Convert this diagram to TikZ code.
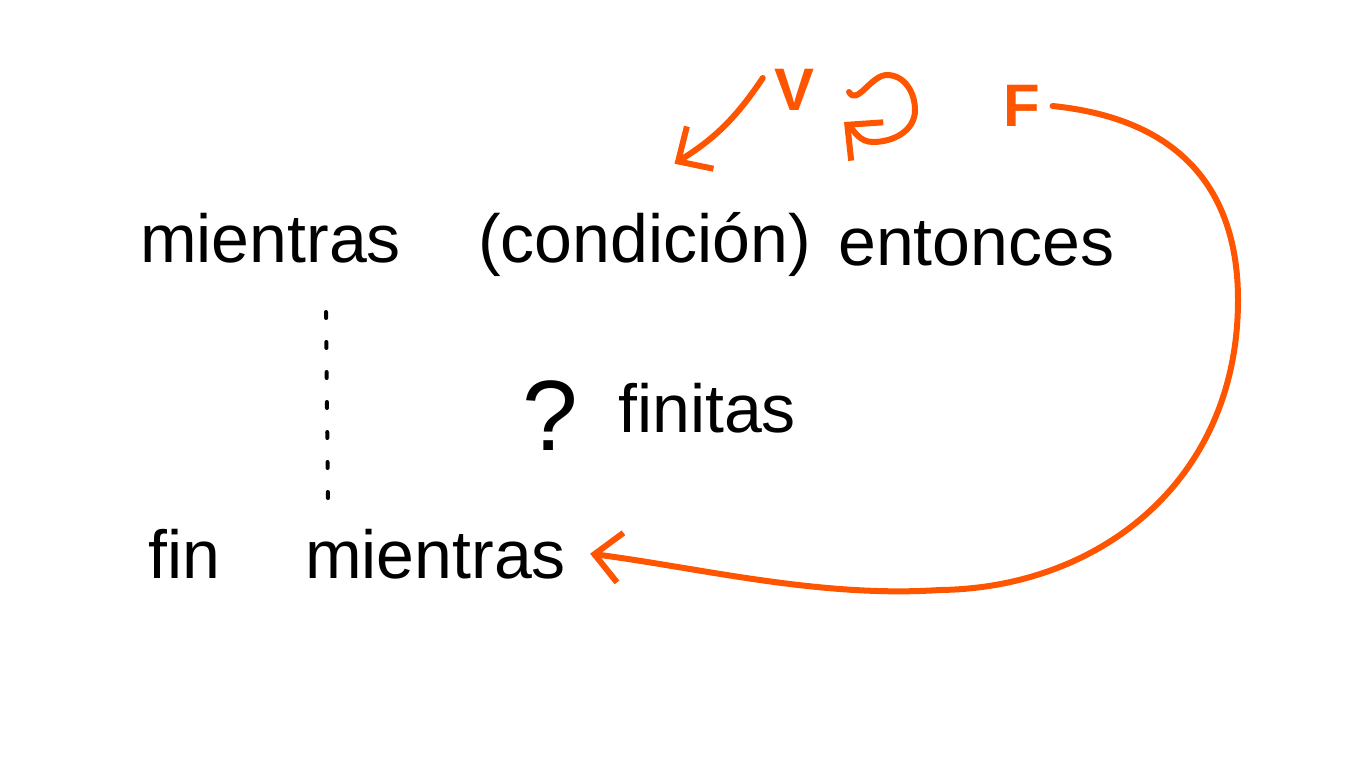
\documentclass[tikz,border=0pt]{standalone}
\usepackage{fontspec}
\setmainfont{Liberation Sans}
\usetikzlibrary{arrows.meta,positioning}
\definecolor{inkorange}{HTML}{FF5500}
\definecolor{inkblack}{HTML}{000000}

\begin{document}
\begin{tikzpicture}[
  x=1pt, y=-1pt,
  word/.style={inner sep=0pt, anchor=base west, text=inkblack, font=\fontsize{68}{76}\selectfont},
  tag/.style={inner sep=12pt, text=inkorange, font=\bfseries\fontsize{60}{66}\selectfont},
  flow/.style={draw=inkorange, line width=6pt, line cap=round, line join=round,
    -{Straight Barb[length=26pt, width=50pt, line width=6pt]}},
  dots/.style={draw=inkblack, line width=4pt, line cap=round, dash pattern=on 6pt off 24pt}
]
\useasboundingbox (0,0) rectangle (1366,768);
\node[word] (ment) at (140,262) {mientras};
\node[word] (cond) at (478,262) {(condición)};
\node[word] (ento) at (838,265) {entonces};
\node[word, font=\fontsize{100}{110}\selectfont] (ques) at (522,450) {?};
\node[word] (fini) at (618,432) {finitas};
\node[word] (fin) at (148,578) {fin};
\node[word] (ment2) at (305,578) {mientras};
\node[tag] (vee) at (795,90) {V};
\node[tag] (eff) at (1022,106) {F};
\coordinate (loop) at (880,112);
\coordinate (dtop) at (326,312);
\coordinate (dbot) at (328,505);
% verdadero: entra al cuerpo
\draw[flow] ([yshift=12pt]vee.west) to[bend left=12] ([xshift=30pt, yshift=48pt]cond.north);
% se repite
\begin{scope}[shift={(loop)}]
\draw[flow] (-31,-20) to[out=-60, in=180] (7,-37) to[out=0, in=90] (35,-2)
  to[out=-90, in=0] (-7,30) to[out=180, in=-40] (-36,10);
\end{scope}
% falso: sale del ciclo
\draw[flow] (eff.east) .. controls (1190,120) and (1238,200) .. (1238,300)
  .. controls (1238,480) and (1100,588) .. (940,590)
  .. controls (820,598) and (700,568) .. ([xshift=24pt]ment2.east);
\draw[dots] (dtop) -- (dbot);
\end{tikzpicture}
\end{document}
